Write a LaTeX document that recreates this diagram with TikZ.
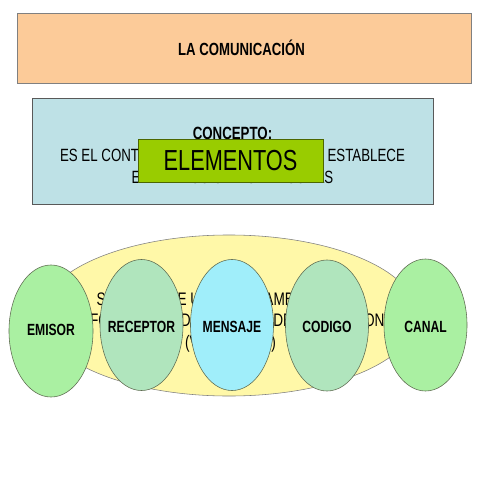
\documentclass[tikz,border=0pt]{standalone}
\usepackage{fontspec}
\setmainfont[FakeStretch=0.75]{Liberation Sans}
\usetikzlibrary{shapes.geometric}

\definecolor{durazno}{HTML}{FCCB99}
\definecolor{celeste}{HTML}{BEE1E6}
\definecolor{verdelima}{HTML}{99CC00}
\definecolor{amarillo}{HTML}{FFF8A8}
\definecolor{verdeclaro}{HTML}{AAF0A2}
\definecolor{menta}{HTML}{B0E5BD}
\definecolor{cian}{HTML}{A0EEFA}
\definecolor{borde}{HTML}{5E6B50}

\begin{document}
\begin{tikzpicture}[x=0.025cm, y=-0.025cm,
        elipse/.style={ellipse, draw=borde, inner sep=0pt,
            minimum width=2.075cm, minimum height=3.275cm},
        etiqueta/.style={font=\fontsize{11.5}{13}\selectfont\bfseries}]
        \useasboundingbox (0,0) rectangle (480,480);
        % cajas de arriba
        \node [rectangle, draw=gray, fill=durazno, minimum width=11.35cm, minimum height=1.75cm] (titulo) at (244,48) {};
        \node [font=\fontsize{12.5}{15}\selectfont\bfseries] (ttitulo) at (241.5,48) {LA COMUNICACIÓN};
        \node [rectangle, draw=gray!70!black, fill=celeste, minimum width=10.025cm,
            minimum height=2.65cm] (fondo) at (232.5,151) {};
        \node [align=center, font=\fontsize{12.6}{15.6}\selectfont] (concepto) at (232.5,155)
            {\textbf{CONCEPTO:}\\ES EL CONTACTO Y EL VÍNCULO QUE SE ESTABLECE\\ENTRE DOS O MÁS PERSONAS};
        \node [rectangle, draw=verdelima!50!black, fill=verdelima, minimum width=4.625cm,
            minimum height=1.075cm, font=\fontsize{20.6}{24}\selectfont] (elementos) at (230.5,160.5) {ELEMENTOS};
        % elementos
        \node [ellipse, draw=gray, fill=amarillo, inner sep=0pt, minimum width=9.4cm,
            minimum height=4.025cm] (fondoamarillo) at (229,315.5) {};
        \node [align=center, font=\fontsize{12.9}{15.4}\selectfont] (intercambio) at (230.5,321)
            {SE PRODUCE UN INTERCAMBIO ÚTIL DE\\INFORMACIÓN, DATOS, Y DE IDEAS Y OPINION\\(VOZ Y SEÑA)};
        \node [elipse, fill=verdeclaro, minimum width=2.1cm, minimum height=3.3cm] (emisor) at (51,331) {};
        \node [elipse, fill=menta] (receptor) at (141.5,325) {};
        \node [elipse, fill=cian] (mensaje) at (232,325) {};
        \node [elipse, fill=menta] (codigo) at (327,325.5) {};
        \node [elipse, fill=verdeclaro, minimum height=3.3cm] (canal) at (425.5,325) {};
        \node [etiqueta] (temisor) at (51,330) {EMISOR};
        \node [etiqueta] (treceptor) at (141.5,327) {RECEPTOR};
        \node [etiqueta] (tmensaje) at (232,327) {MENSAJE};
        \node [etiqueta] (tcodigo) at (327,327) {CODIGO};
        \node [etiqueta] (tcanal) at (425.5,327) {CANAL};
\end{tikzpicture}
\end{document}
